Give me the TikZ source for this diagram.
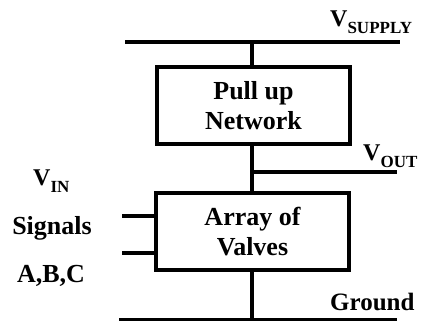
\documentclass[tikz,border=0pt]{standalone}
\usepackage{fontspec}
\setmainfont{Liberation Serif}
\newcommand{\bigfont}{\bfseries\fontsize{26}{30}\selectfont}
\newcommand{\vlab}[1]{{\fontsize{24}{24}\selectfont V}\raisebox{-7pt}{\fontsize{17}{17}\selectfont #1}}
\begin{document}
\begin{tikzpicture}[x=1pt,y=-1pt,
  wire/.style={line width=3.2pt},
  blk/.style={draw, line width=3.2pt, minimum width=193pt, minimum height=77pt, inner sep=0pt, align=center, font=\bigfont},
  lbl/.style={font=\bigfont, inner sep=0pt}]
\useasboundingbox (0,0) rectangle (421,322);
\node[blk] (pu) at (253.5,105.5) {Pull up\\Network};
\node[blk] (arr) at (252.5,231.5) {Array of\\Valves};
% supply rail
\coordinate (sL) at (125,42);
\coordinate (sR) at (400,42);
\coordinate (sJ) at (252,42);
\draw[wire] (sL) -- (sR);
\draw[wire] (sJ) -- (sJ |- pu.north);
% output
\coordinate (oJ) at (252,172);
\coordinate (oR) at (397,172);
\draw[wire] (oJ |- pu.south) -- (oJ |- arr.north);
\draw[wire] (oJ) -- (oR);
% inputs
\coordinate (i1) at (122,216);
\coordinate (i2) at (122,253);
\draw[wire] (i1) -- (i1 -| arr.west);
\draw[wire] (i2) -- (i2 -| arr.west);
% ground
\coordinate (gL) at (119,319.5);
\coordinate (gR) at (397,319.5);
\coordinate (gJ) at (252,319.5);
\draw[wire] (gL) -- (gR);
\draw[wire] (gJ |- arr.south) -- (gJ);
% labels
\node[lbl, anchor=base west] (vs) at (330,26) {\vlab{SUPPLY}};
\node[lbl, anchor=base west] (vo) at (363,160) {\vlab{OUT}};
\node[lbl, anchor=base west] (vi) at (33,185) {\vlab{IN}};
\node[lbl, anchor=base] (sig) at (52,234) {Signals};
\node[lbl, anchor=base] (abc) at (51,282) {A,B,C};
\node[lbl, anchor=base west, font=\bfseries\fontsize{25}{30}\selectfont] (gnd) at (330,310) {Ground};
\end{tikzpicture}
\end{document}
